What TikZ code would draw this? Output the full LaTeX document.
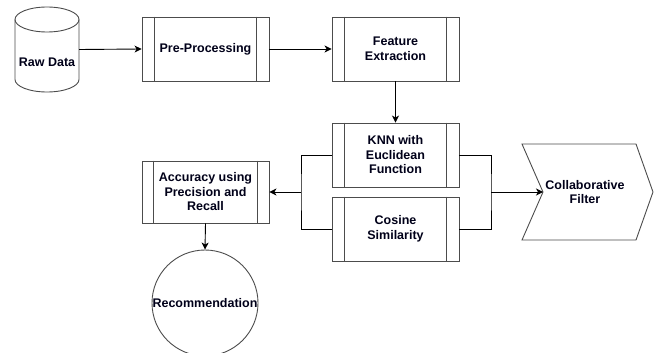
\documentclass[tikz,border=0pt]{standalone}
\usepackage{fontspec}
\setmainfont{Liberation Sans}
\usetikzlibrary{arrows.meta}
\begin{document}
\begin{tikzpicture}[x=1pt,y=-1pt,
  every node/.style={font=\bfseries\fontsize{12.5}{14.5}\selectfont, text=black!90!blue, align=center, inner sep=0pt},
  procbox/.style={draw=black!70, line width=0.9pt, minimum width=127pt, minimum height=64pt, fill=white},
  edge/.style={draw=black, line width=0.9pt},
  arr/.style={edge, -{Stealth[length=7pt,width=7pt,inset=2pt]}},
  shapeline/.style={draw=black!70, line width=0.9pt}
]
\useasboundingbox (0,0) rectangle (656,353);

% Cylinder (Raw Data)
\node[minimum width=64pt, minimum height=85pt] (raw) at (47,49.5) {};
\draw[shapeline, fill=white] (15,19.5) -- (15,79.5) arc[start angle=180,end angle=360,x radius=32,y radius=-12.5] -- (79,19.5) arc[start angle=0,end angle=180,x radius=32,y radius=-12.5] -- cycle;
\draw[shapeline] (15,19.5) arc[start angle=180,end angle=360,x radius=32,y radius=-12.5];
\node at (47,62) {Raw Data};

% Process boxes
\node[procbox] (pre) at (205.5,49) {Pre-Processing};
\node[procbox] (feat) at (395.5,49) {Feature\\Extraction};
\node[procbox] (knn) at (395.5,155) {KNN with\\Euclidean\\Function};
\node[procbox] (cos) at (395.5,229) {Cosine\\Similarity};
\node[procbox, minimum height=62pt] (acc) at (205.5,192) {Accuracy using\\Precision and\\Recall};
\foreach \n/\d in {pre/13,feat/13,knn/13,cos/13,acc/12}{
  \draw[shapeline] ([xshift=\d pt]\n.north west) -- ([xshift=\d pt]\n.south west);
  \draw[shapeline] ([xshift=-\d pt]\n.north east) -- ([xshift=-\d pt]\n.south east);
}

% Circle
\node[circle, draw=black!70, line width=0.9pt, minimum size=106pt] (rec) at (205,303) {Recommendation};

% Chevron (Collaborative Filter)
\draw[shapeline, fill=white] (522,144) -- (636,144) -- (653,192) -- (636,240) -- (522,240) -- (543,192) -- cycle;
\coordinate (cfin) at (543,192);
\node (cf) at (585,192) {Collaborative\\Filter};

% Junction coordinates
\coordinate (jl) at (301,192);
\coordinate (jr) at (491,192);

% Connectors
\draw[arr] (raw.east) -- (pre.west);
\draw[arr] (pre.east) -- (feat.west);
\draw[arr] (feat.south) -- (knn.north);
\draw[edge] (knn.west) -| (jl) |- (cos.west);
\draw[arr] (jl) -- (acc.east);
\draw[edge] (knn.east) -| (jr) |- (cos.east);
\draw[arr] (jr) -- (cfin);
\draw[arr] (acc.south) -- (rec.north);
\end{tikzpicture}
\end{document}
